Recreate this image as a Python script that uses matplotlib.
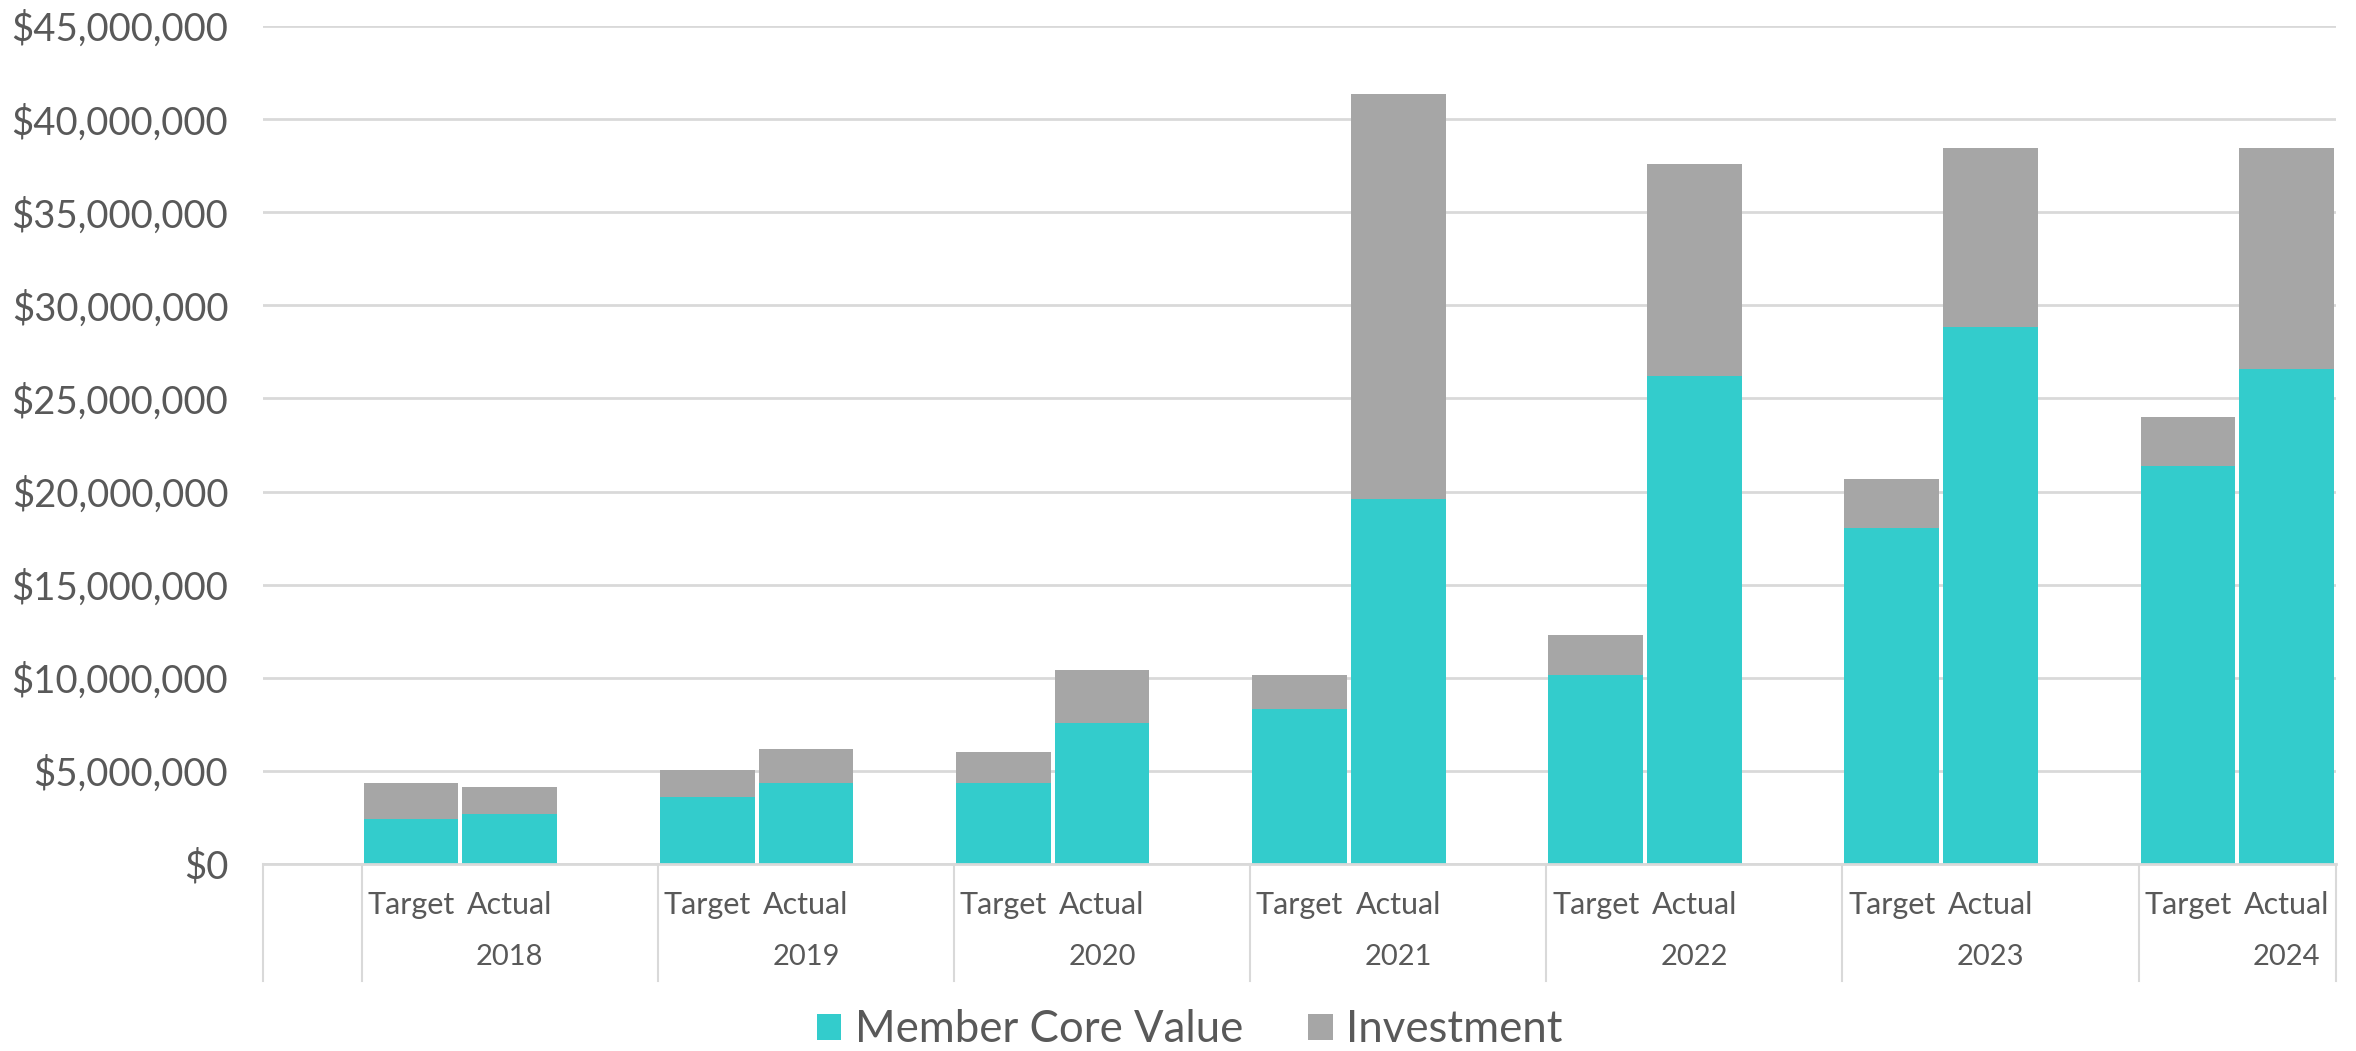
import numpy as np
import matplotlib
matplotlib.use('Agg')
import matplotlib.pyplot as plt
from matplotlib.ticker import FuncFormatter


#data (dollars, millions)

years = ['2018', '2019', '2020', '2021', '2022', '2023', '2024']
kinds = ['Target', 'Actual']

core_target = [2.40, 3.60, 4.33, 8.32, 10.15, 18.05, 21.39]
invest_target = [1.95, 1.45, 1.68, 1.83, 2.15, 2.65, 2.62]
core_actual = [2.70, 4.37, 7.59, 19.60, 26.19, 28.86, 26.57]
invest_actual = [1.45, 1.81, 2.81, 21.75, 11.39, 9.58, 11.90]

teal = '#33CCCC'
grey = '#A6A6A6'
text_col = '#595959'
line_col = '#D9D9D9'

plt.rcParams['font.family'] = ['Lato', 'DejaVu Sans']

fig = plt.figure(figsize=(23.56, 10.51), dpi=100)
ax = fig.add_axes([263/2356, 1-864/1051, (2336-263)/2356, (864-26)/1051])

#each year takes 3 slots: Target, Actual, gap
g = np.arange(len(years)) * 3
x_t = g + 0.5
x_a = g + 1.5
w = 0.96

ct = np.array(core_target) * 1e6
it = np.array(invest_target) * 1e6
ca = np.array(core_actual) * 1e6
ia = np.array(invest_actual) * 1e6

ax.bar(x_t, ct, width=w, color=teal, label='Member Core Value', zorder=2)
ax.bar(x_t, it, bottom=ct, width=w, color=grey, label='Investment', zorder=2)
ax.bar(x_a, ca, width=w, color=teal, zorder=2)
ax.bar(x_a, ia, bottom=ca, width=w, color=grey, zorder=2)

ax.set_xlim(-1, 20)
ax.set_ylim(0, 45e6)
ax.set_yticks(np.arange(0, 45e6 + 1, 5e6))
ax.yaxis.set_major_formatter(FuncFormatter(lambda v, p: '${:,.0f}'.format(v)))
ax.tick_params(axis='y', length=0, pad=25, labelsize=27.5, labelcolor=text_col)
ax.set_xticks([])
ax.grid(axis='y', color=line_col, linewidth=2)
ax.set_axisbelow(True)
for s in ['top', 'right', 'left']:
    ax.spines[s].set_visible(False)
ax.spines['bottom'].set_color(line_col)
ax.spines['bottom'].set_linewidth(2)

#two level category axis
trans = ax.get_xaxis_transform()
seps = [-1] + list(g) + [20]
for s in seps:
    ax.plot([s, s], [0, -0.14], color=line_col, linewidth=1.5, transform=trans, clip_on=False)

for i in range(len(years)):
    ax.text(x_t[i], -0.049, kinds[0], transform=trans, ha='center', va='center',
            fontsize=22, color=text_col)
    ax.text(x_a[i], -0.049, kinds[1], transform=trans, ha='center', va='center',
            fontsize=22, color=text_col)
    ax.text(x_a[i], -0.111, years[i], transform=trans, ha='center', va='center',
            fontsize=21, color=text_col)

leg = fig.legend(loc='center', bbox_to_anchor=(0.505, 1-1030/1051), ncol=2, frameon=False,
                 fontsize=31.5, labelcolor=text_col, handlelength=0.55, handleheight=0.55,
                 handletextpad=0.3, columnspacing=1.5)

plt.savefig('out.png', dpi=100)
